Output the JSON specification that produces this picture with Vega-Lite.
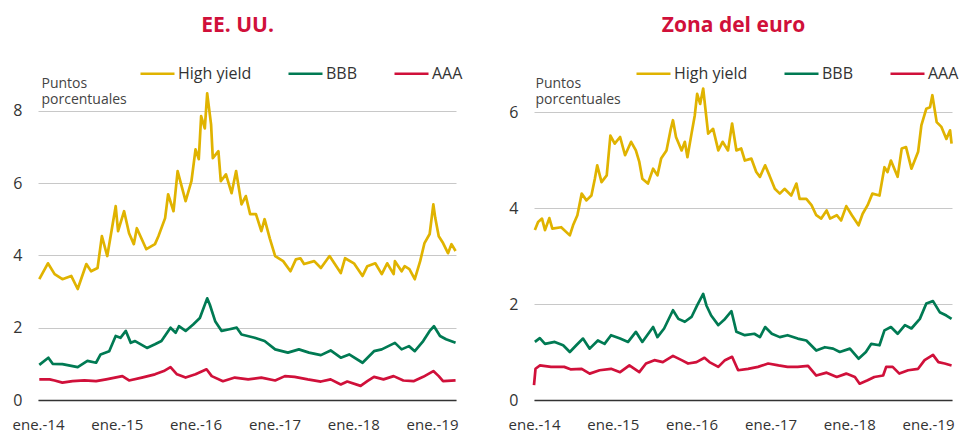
{
  "$schema": "https://vega.github.io/schema/vega-lite/v6.json",
  "padding": {"left": 12, "top": 15, "right": 0, "bottom": 0},
  "spacing": 45,
  "background": "white",
  "config": {
    "font": "Open Sans",
    "view": {"stroke": null},
    "line": {"strokeWidth": 2.7, "strokeJoin": "round"}
  },
  "datasets": {
    "us": [
      {"d":"2014-01-07","s":"High yield","v":3.34},{"d":"2014-02-16","s":"High yield","v":3.78},{"d":"2014-03-19","s":"High yield","v":3.48},{"d":"2014-04-24","s":"High yield","v":3.34},{"d":"2014-06-04","s":"High yield","v":3.43},{"d":"2014-07-04","s":"High yield","v":3.07},{"d":"2014-08-13","s":"High yield","v":3.76},{"d":"2014-09-04","s":"High yield","v":3.56},{"d":"2014-10-04","s":"High yield","v":3.65},{"d":"2014-10-24","s":"High yield","v":4.53},{"d":"2014-11-18","s":"High yield","v":3.98},{"d":"2014-12-27","s":"High yield","v":5.36},{"d":"2015-01-07","s":"High yield","v":4.67},{"d":"2015-02-04","s":"High yield","v":5.22},{"d":"2015-02-27","s":"High yield","v":4.61},{"d":"2015-03-21","s":"High yield","v":4.31},{"d":"2015-04-04","s":"High yield","v":4.75},{"d":"2015-05-18","s":"High yield","v":4.17},{"d":"2015-06-27","s":"High yield","v":4.31},{"d":"2015-07-13","s":"High yield","v":4.53},{"d":"2015-08-13","s":"High yield","v":5.03},{"d":"2015-08-27","s":"High yield","v":5.69},{"d":"2015-09-21","s":"High yield","v":5.22},{"d":"2015-10-10","s":"High yield","v":6.33},{"d":"2015-11-16","s":"High yield","v":5.5},{"d":"2015-12-13","s":"High yield","v":6.05},{"d":"2016-01-01","s":"High yield","v":6.93},{"d":"2016-01-16","s":"High yield","v":6.66},{"d":"2016-01-27","s":"High yield","v":7.85},{"d":"2016-02-13","s":"High yield","v":7.51},{"d":"2016-02-24","s":"High yield","v":8.48},{"d":"2016-03-13","s":"High yield","v":7.62},{"d":"2016-03-21","s":"High yield","v":6.69},{"d":"2016-04-16","s":"High yield","v":6.88},{"d":"2016-04-27","s":"High yield","v":6.05},{"d":"2016-05-21","s":"High yield","v":6.24},{"d":"2016-06-16","s":"High yield","v":5.72},{"d":"2016-07-07","s":"High yield","v":6.33},{"d":"2016-08-01","s":"High yield","v":5.41},{"d":"2016-08-21","s":"High yield","v":5.64},{"d":"2016-09-10","s":"High yield","v":5.14},{"d":"2016-10-07","s":"High yield","v":5.14},{"d":"2016-11-01","s":"High yield","v":4.67},{"d":"2016-11-16","s":"High yield","v":5.0},{"d":"2016-12-10","s":"High yield","v":4.47},{"d":"2017-01-04","s":"High yield","v":3.98},{"d":"2017-02-10","s":"High yield","v":3.84},{"d":"2017-03-16","s":"High yield","v":3.56},{"d":"2017-04-10","s":"High yield","v":3.89},{"d":"2017-05-01","s":"High yield","v":3.92},{"d":"2017-05-18","s":"High yield","v":3.76},{"d":"2017-07-04","s":"High yield","v":3.84},{"d":"2017-08-04","s":"High yield","v":3.65},{"d":"2017-09-13","s":"High yield","v":3.98},{"d":"2017-11-04","s":"High yield","v":3.51},{"d":"2017-11-24","s":"High yield","v":3.92},{"d":"2018-01-04","s":"High yield","v":3.78},{"d":"2018-02-13","s":"High yield","v":3.43},{"d":"2018-03-07","s":"High yield","v":3.7},{"d":"2018-04-13","s":"High yield","v":3.78},{"d":"2018-05-13","s":"High yield","v":3.48},{"d":"2018-06-07","s":"High yield","v":3.78},{"d":"2018-07-07","s":"High yield","v":3.48},{"d":"2018-07-13","s":"High yield","v":3.84},{"d":"2018-08-13","s":"High yield","v":3.56},{"d":"2018-08-27","s":"High yield","v":3.7},{"d":"2018-09-18","s":"High yield","v":3.62},{"d":"2018-10-13","s":"High yield","v":3.34},{"d":"2018-11-07","s":"High yield","v":3.84},{"d":"2018-11-27","s":"High yield","v":4.34},{"d":"2018-12-21","s":"High yield","v":4.59},{"d":"2019-01-07","s":"High yield","v":5.41},{"d":"2019-01-16","s":"High yield","v":5.03},{"d":"2019-02-01","s":"High yield","v":4.53},{"d":"2019-02-21","s":"High yield","v":4.34},{"d":"2019-03-16","s":"High yield","v":4.06},{"d":"2019-04-01","s":"High yield","v":4.31},{"d":"2019-04-20","s":"High yield","v":4.12},
      {"d":"2014-01-07","s":"BBB","v":0.97},{"d":"2014-02-18","s":"BBB","v":1.17},{"d":"2014-03-10","s":"BBB","v":1.0},{"d":"2014-04-24","s":"BBB","v":0.99},{"d":"2014-07-04","s":"BBB","v":0.91},{"d":"2014-08-18","s":"BBB","v":1.08},{"d":"2014-09-27","s":"BBB","v":1.03},{"d":"2014-10-18","s":"BBB","v":1.26},{"d":"2014-11-27","s":"BBB","v":1.35},{"d":"2014-12-27","s":"BBB","v":1.77},{"d":"2015-01-18","s":"BBB","v":1.72},{"d":"2015-02-12","s":"BBB","v":1.91},{"d":"2015-03-07","s":"BBB","v":1.58},{"d":"2015-03-27","s":"BBB","v":1.63},{"d":"2015-05-21","s":"BBB","v":1.44},{"d":"2015-06-27","s":"BBB","v":1.54},{"d":"2015-07-27","s":"BBB","v":1.63},{"d":"2015-09-07","s":"BBB","v":2.0},{"d":"2015-10-01","s":"BBB","v":1.86},{"d":"2015-10-16","s":"BBB","v":2.04},{"d":"2015-11-16","s":"BBB","v":1.91},{"d":"2015-12-21","s":"BBB","v":2.09},{"d":"2016-01-21","s":"BBB","v":2.27},{"d":"2016-02-24","s":"BBB","v":2.81},{"d":"2016-03-07","s":"BBB","v":2.64},{"d":"2016-04-01","s":"BBB","v":2.18},{"d":"2016-05-01","s":"BBB","v":1.91},{"d":"2016-06-01","s":"BBB","v":1.95},{"d":"2016-07-10","s":"BBB","v":2.0},{"d":"2016-08-01","s":"BBB","v":1.81},{"d":"2016-10-01","s":"BBB","v":1.72},{"d":"2016-11-16","s":"BBB","v":1.63},{"d":"2017-01-04","s":"BBB","v":1.4},{"d":"2017-03-04","s":"BBB","v":1.31},{"d":"2017-04-24","s":"BBB","v":1.4},{"d":"2017-06-10","s":"BBB","v":1.31},{"d":"2017-08-04","s":"BBB","v":1.24},{"d":"2017-09-18","s":"BBB","v":1.37},{"d":"2017-11-04","s":"BBB","v":1.17},{"d":"2017-12-13","s":"BBB","v":1.26},{"d":"2018-02-13","s":"BBB","v":1.03},{"d":"2018-04-07","s":"BBB","v":1.35},{"d":"2018-05-13","s":"BBB","v":1.4},{"d":"2018-07-13","s":"BBB","v":1.58},{"d":"2018-08-13","s":"BBB","v":1.4},{"d":"2018-09-16","s":"BBB","v":1.49},{"d":"2018-10-13","s":"BBB","v":1.35},{"d":"2018-11-21","s":"BBB","v":1.63},{"d":"2018-12-21","s":"BBB","v":1.91},{"d":"2019-01-10","s":"BBB","v":2.04},{"d":"2019-02-07","s":"BBB","v":1.77},{"d":"2019-03-07","s":"BBB","v":1.68},{"d":"2019-04-20","s":"BBB","v":1.58},
      {"d":"2014-01-07","s":"AAA","v":0.57},{"d":"2014-02-24","s":"AAA","v":0.57},{"d":"2014-03-19","s":"AAA","v":0.54},{"d":"2014-04-24","s":"AAA","v":0.48},{"d":"2014-06-10","s":"AAA","v":0.52},{"d":"2014-08-04","s":"AAA","v":0.54},{"d":"2014-09-27","s":"AAA","v":0.52},{"d":"2014-11-13","s":"AAA","v":0.57},{"d":"2015-01-27","s":"AAA","v":0.66},{"d":"2015-02-27","s":"AAA","v":0.54},{"d":"2015-04-27","s":"AAA","v":0.62},{"d":"2015-06-27","s":"AAA","v":0.71},{"d":"2015-08-07","s":"AAA","v":0.8},{"d":"2015-09-07","s":"AAA","v":0.91},{"d":"2015-10-07","s":"AAA","v":0.71},{"d":"2015-11-16","s":"AAA","v":0.62},{"d":"2016-01-01","s":"AAA","v":0.71},{"d":"2016-02-21","s":"AAA","v":0.85},{"d":"2016-03-16","s":"AAA","v":0.66},{"d":"2016-05-07","s":"AAA","v":0.52},{"d":"2016-07-01","s":"AAA","v":0.62},{"d":"2016-09-01","s":"AAA","v":0.57},{"d":"2016-11-01","s":"AAA","v":0.62},{"d":"2017-01-04","s":"AAA","v":0.54},{"d":"2017-02-18","s":"AAA","v":0.66},{"d":"2017-04-04","s":"AAA","v":0.64},{"d":"2017-06-04","s":"AAA","v":0.57},{"d":"2017-08-04","s":"AAA","v":0.51},{"d":"2017-09-18","s":"AAA","v":0.57},{"d":"2017-11-04","s":"AAA","v":0.43},{"d":"2017-12-04","s":"AAA","v":0.51},{"d":"2018-02-04","s":"AAA","v":0.39},{"d":"2018-03-07","s":"AAA","v":0.52},{"d":"2018-04-07","s":"AAA","v":0.64},{"d":"2018-05-21","s":"AAA","v":0.57},{"d":"2018-07-07","s":"AAA","v":0.66},{"d":"2018-08-21","s":"AAA","v":0.54},{"d":"2018-10-07","s":"AAA","v":0.52},{"d":"2018-11-21","s":"AAA","v":0.64},{"d":"2019-01-07","s":"AAA","v":0.8},{"d":"2019-02-01","s":"AAA","v":0.66},{"d":"2019-02-21","s":"AAA","v":0.52},{"d":"2019-04-20","s":"AAA","v":0.54}
    ],
    "ez": [
      {"d":"2014-01-05","s":"High yield","v":3.54},{"d":"2014-01-20","s":"High yield","v":3.71},{"d":"2014-02-07","s":"High yield","v":3.78},{"d":"2014-02-21","s":"High yield","v":3.54},{"d":"2014-03-13","s":"High yield","v":3.79},{"d":"2014-03-27","s":"High yield","v":3.57},{"d":"2014-05-07","s":"High yield","v":3.6},{"d":"2014-06-16","s":"High yield","v":3.43},{"d":"2014-07-01","s":"High yield","v":3.64},{"d":"2014-07-21","s":"High yield","v":3.85},{"d":"2014-08-10","s":"High yield","v":4.3},{"d":"2014-09-01","s":"High yield","v":4.16},{"d":"2014-09-24","s":"High yield","v":4.26},{"d":"2014-10-10","s":"High yield","v":4.61},{"d":"2014-10-21","s":"High yield","v":4.89},{"d":"2014-11-10","s":"High yield","v":4.54},{"d":"2014-12-04","s":"High yield","v":4.68},{"d":"2014-12-21","s":"High yield","v":5.51},{"d":"2015-01-10","s":"High yield","v":5.34},{"d":"2015-02-04","s":"High yield","v":5.48},{"d":"2015-02-27","s":"High yield","v":5.1},{"d":"2015-03-27","s":"High yield","v":5.38},{"d":"2015-04-18","s":"High yield","v":5.2},{"d":"2015-05-04","s":"High yield","v":4.96},{"d":"2015-05-18","s":"High yield","v":4.61},{"d":"2015-06-13","s":"High yield","v":4.51},{"d":"2015-07-07","s":"High yield","v":4.82},{"d":"2015-07-27","s":"High yield","v":4.68},{"d":"2015-08-13","s":"High yield","v":5.03},{"d":"2015-09-07","s":"High yield","v":5.2},{"d":"2015-09-27","s":"High yield","v":5.65},{"d":"2015-10-07","s":"High yield","v":5.83},{"d":"2015-10-21","s":"High yield","v":5.48},{"d":"2015-11-16","s":"High yield","v":5.2},{"d":"2015-12-01","s":"High yield","v":5.38},{"d":"2015-12-13","s":"High yield","v":5.06},{"d":"2016-01-01","s":"High yield","v":5.55},{"d":"2016-01-16","s":"High yield","v":5.93},{"d":"2016-01-27","s":"High yield","v":6.38},{"d":"2016-02-10","s":"High yield","v":6.17},{"d":"2016-02-24","s":"High yield","v":6.49},{"d":"2016-03-07","s":"High yield","v":6.0},{"d":"2016-03-18","s":"High yield","v":5.55},{"d":"2016-04-10","s":"High yield","v":5.65},{"d":"2016-05-04","s":"High yield","v":5.2},{"d":"2016-05-24","s":"High yield","v":5.38},{"d":"2016-06-18","s":"High yield","v":5.2},{"d":"2016-07-07","s":"High yield","v":5.76},{"d":"2016-07-27","s":"High yield","v":5.2},{"d":"2016-08-18","s":"High yield","v":5.24},{"d":"2016-09-04","s":"High yield","v":4.99},{"d":"2016-10-04","s":"High yield","v":5.03},{"d":"2016-10-27","s":"High yield","v":4.75},{"d":"2016-11-13","s":"High yield","v":4.65},{"d":"2016-12-07","s":"High yield","v":4.89},{"d":"2016-12-27","s":"High yield","v":4.68},{"d":"2017-01-21","s":"High yield","v":4.4},{"d":"2017-02-13","s":"High yield","v":4.3},{"d":"2017-03-07","s":"High yield","v":4.4},{"d":"2017-04-07","s":"High yield","v":4.26},{"d":"2017-05-01","s":"High yield","v":4.51},{"d":"2017-05-16","s":"High yield","v":4.19},{"d":"2017-06-16","s":"High yield","v":4.19},{"d":"2017-07-10","s":"High yield","v":4.06},{"d":"2017-08-01","s":"High yield","v":3.85},{"d":"2017-08-24","s":"High yield","v":3.78},{"d":"2017-09-18","s":"High yield","v":3.95},{"d":"2017-10-04","s":"High yield","v":3.78},{"d":"2017-11-04","s":"High yield","v":3.85},{"d":"2017-11-24","s":"High yield","v":3.74},{"d":"2017-12-18","s":"High yield","v":4.04},{"d":"2018-01-13","s":"High yield","v":3.85},{"d":"2018-02-13","s":"High yield","v":3.64},{"d":"2018-03-04","s":"High yield","v":3.88},{"d":"2018-03-27","s":"High yield","v":4.06},{"d":"2018-04-18","s":"High yield","v":4.3},{"d":"2018-05-21","s":"High yield","v":4.26},{"d":"2018-06-13","s":"High yield","v":4.85},{"d":"2018-06-27","s":"High yield","v":4.75},{"d":"2018-07-13","s":"High yield","v":4.99},{"d":"2018-08-13","s":"High yield","v":4.65},{"d":"2018-09-01","s":"High yield","v":5.24},{"d":"2018-09-21","s":"High yield","v":5.27},{"d":"2018-10-16","s":"High yield","v":4.82},{"d":"2018-11-16","s":"High yield","v":5.17},{"d":"2018-12-01","s":"High yield","v":5.72},{"d":"2018-12-24","s":"High yield","v":6.07},{"d":"2019-01-10","s":"High yield","v":6.1},{"d":"2019-01-21","s":"High yield","v":6.35},{"d":"2019-02-10","s":"High yield","v":5.79},{"d":"2019-03-04","s":"High yield","v":5.69},{"d":"2019-03-27","s":"High yield","v":5.44},{"d":"2019-04-13","s":"High yield","v":5.62},{"d":"2019-04-20","s":"High yield","v":5.34},
      {"d":"2014-01-05","s":"BBB","v":1.21},{"d":"2014-01-28","s":"BBB","v":1.29},{"d":"2014-02-21","s":"BBB","v":1.17},{"d":"2014-04-07","s":"BBB","v":1.21},{"d":"2014-05-16","s":"BBB","v":1.14},{"d":"2014-06-16","s":"BBB","v":1.0},{"d":"2014-07-16","s":"BBB","v":1.14},{"d":"2014-08-16","s":"BBB","v":1.28},{"d":"2014-09-16","s":"BBB","v":1.07},{"d":"2014-10-24","s":"BBB","v":1.24},{"d":"2014-11-24","s":"BBB","v":1.17},{"d":"2014-12-24","s":"BBB","v":1.35},{"d":"2015-02-04","s":"BBB","v":1.28},{"d":"2015-03-13","s":"BBB","v":1.21},{"d":"2015-04-18","s":"BBB","v":1.42},{"d":"2015-05-18","s":"BBB","v":1.21},{"d":"2015-07-07","s":"BBB","v":1.52},{"d":"2015-07-27","s":"BBB","v":1.31},{"d":"2015-08-27","s":"BBB","v":1.49},{"d":"2015-10-07","s":"BBB","v":1.87},{"d":"2015-11-01","s":"BBB","v":1.69},{"d":"2015-12-01","s":"BBB","v":1.63},{"d":"2016-01-01","s":"BBB","v":1.73},{"d":"2016-01-27","s":"BBB","v":1.97},{"d":"2016-02-24","s":"BBB","v":2.21},{"d":"2016-03-10","s":"BBB","v":1.97},{"d":"2016-04-01","s":"BBB","v":1.76},{"d":"2016-05-04","s":"BBB","v":1.56},{"d":"2016-06-04","s":"BBB","v":1.69},{"d":"2016-07-04","s":"BBB","v":1.85},{"d":"2016-07-27","s":"BBB","v":1.42},{"d":"2016-09-04","s":"BBB","v":1.35},{"d":"2016-10-18","s":"BBB","v":1.38},{"d":"2016-11-13","s":"BBB","v":1.31},{"d":"2016-12-07","s":"BBB","v":1.52},{"d":"2017-01-07","s":"BBB","v":1.38},{"d":"2017-02-13","s":"BBB","v":1.31},{"d":"2017-03-21","s":"BBB","v":1.35},{"d":"2017-05-07","s":"BBB","v":1.28},{"d":"2017-06-16","s":"BBB","v":1.24},{"d":"2017-08-01","s":"BBB","v":1.03},{"d":"2017-09-10","s":"BBB","v":1.1},{"d":"2017-10-18","s":"BBB","v":1.07},{"d":"2017-11-18","s":"BBB","v":1.0},{"d":"2018-01-04","s":"BBB","v":1.07},{"d":"2018-02-13","s":"BBB","v":0.86},{"d":"2018-03-19","s":"BBB","v":1.0},{"d":"2018-04-13","s":"BBB","v":1.17},{"d":"2018-05-21","s":"BBB","v":1.14},{"d":"2018-06-13","s":"BBB","v":1.45},{"d":"2018-07-13","s":"BBB","v":1.52},{"d":"2018-08-13","s":"BBB","v":1.38},{"d":"2018-09-16","s":"BBB","v":1.56},{"d":"2018-10-16","s":"BBB","v":1.49},{"d":"2018-11-24","s":"BBB","v":1.69},{"d":"2018-12-24","s":"BBB","v":2.01},{"d":"2019-01-24","s":"BBB","v":2.06},{"d":"2019-02-24","s":"BBB","v":1.83},{"d":"2019-03-27","s":"BBB","v":1.76},{"d":"2019-04-20","s":"BBB","v":1.69},
      {"d":"2014-01-01","s":"AAA","v":0.31},{"d":"2014-01-08","s":"AAA","v":0.65},{"d":"2014-01-28","s":"AAA","v":0.72},{"d":"2014-03-21","s":"AAA","v":0.69},{"d":"2014-05-21","s":"AAA","v":0.69},{"d":"2014-06-19","s":"AAA","v":0.64},{"d":"2014-08-10","s":"AAA","v":0.65},{"d":"2014-09-16","s":"AAA","v":0.55},{"d":"2014-11-01","s":"AAA","v":0.62},{"d":"2014-12-24","s":"AAA","v":0.65},{"d":"2015-02-04","s":"AAA","v":0.58},{"d":"2015-03-19","s":"AAA","v":0.72},{"d":"2015-05-04","s":"AAA","v":0.58},{"d":"2015-06-04","s":"AAA","v":0.76},{"d":"2015-07-13","s":"AAA","v":0.83},{"d":"2015-08-21","s":"AAA","v":0.79},{"d":"2015-10-07","s":"AAA","v":0.92},{"d":"2015-11-16","s":"AAA","v":0.83},{"d":"2015-12-16","s":"AAA","v":0.76},{"d":"2016-01-24","s":"AAA","v":0.79},{"d":"2016-03-01","s":"AAA","v":0.88},{"d":"2016-03-24","s":"AAA","v":0.79},{"d":"2016-05-04","s":"AAA","v":0.69},{"d":"2016-06-04","s":"AAA","v":0.83},{"d":"2016-07-07","s":"AAA","v":0.9},{"d":"2016-08-04","s":"AAA","v":0.62},{"d":"2016-09-19","s":"AAA","v":0.65},{"d":"2016-11-04","s":"AAA","v":0.69},{"d":"2016-12-21","s":"AAA","v":0.76},{"d":"2017-02-07","s":"AAA","v":0.72},{"d":"2017-03-21","s":"AAA","v":0.69},{"d":"2017-05-07","s":"AAA","v":0.69},{"d":"2017-06-24","s":"AAA","v":0.71},{"d":"2017-08-01","s":"AAA","v":0.51},{"d":"2017-09-18","s":"AAA","v":0.57},{"d":"2017-11-04","s":"AAA","v":0.48},{"d":"2017-12-18","s":"AAA","v":0.55},{"d":"2018-01-27","s":"AAA","v":0.48},{"d":"2018-02-18","s":"AAA","v":0.34},{"d":"2018-03-27","s":"AAA","v":0.41},{"d":"2018-04-27","s":"AAA","v":0.48},{"d":"2018-06-07","s":"AAA","v":0.51},{"d":"2018-06-21","s":"AAA","v":0.69},{"d":"2018-07-21","s":"AAA","v":0.69},{"d":"2018-08-21","s":"AAA","v":0.55},{"d":"2018-10-01","s":"AAA","v":0.62},{"d":"2018-11-16","s":"AAA","v":0.65},{"d":"2018-12-16","s":"AAA","v":0.83},{"d":"2019-01-24","s":"AAA","v":0.94},{"d":"2019-02-18","s":"AAA","v":0.79},{"d":"2019-03-19","s":"AAA","v":0.76},{"d":"2019-04-20","s":"AAA","v":0.72}
    ]
  },
  "resolve": {"scale": {"y": "independent", "color": "independent", "x": "independent"}, "legend": {"color": "independent"}},
  "hconcat": [
    {
      "title": {"text": "EE. UU.", "color": "#d0103a", "fontSize": 21, "fontWeight": "bold", "anchor": "middle", "frame": "bounds", "offset": 19},
      "data": {"name": "us"},
      "width": 418,
      "height": 311,
      "mark": {"type": "line"},
      "encoding": {
        "x": {"field": "d", "type": "temporal",
          "scale": {"domain": [{"year": 2014, "month": 1, "date": 1}, {"year": 2019, "month": 4, "date": 22}]},
          "axis": {"values": [{"year": 2014, "month": 1, "date": 1}, {"year": 2015, "month": 1, "date": 1}, {"year": 2016, "month": 1, "date": 1}, {"year": 2017, "month": 1, "date": 1}, {"year": 2018, "month": 1, "date": 1}, {"year": 2019, "month": 1, "date": 1}],
            "labelExpr": "'ene.-' + timeFormat(datum.value, '%y')", "title": null, "grid": false, "ticks": false,
            "domain": true, "domainColor": "#333333", "domainWidth": 1.5, "labelFontSize": 15, "labelColor": "#333333", "labelPadding": 17, "labelFlush": false, "zindex": 1}},
        "y": {"field": "v", "type": "quantitative",
          "scale": {"domain": [0, 8.6], "nice": false},
          "axis": {"values": [0, 2, 4, 6, 8], "title": ["Puntos", "porcentuales"], "titleAngle": 0, "titleAlign": "left", "titleBaseline": "top", "titleX": 3, "titleY": -13, "titleFontSize": 14, "titleFontWeight": "normal", "titleColor": "#444444", "titleLineHeight": 16,
            "grid": true, "gridColor": "#c8c8c8", "domain": false, "ticks": false, "labelFontSize": 16, "labelColor": "#333333", "labelPadding": 16}},
        "color": {"field": "s", "type": "nominal",
          "scale": {"domain": ["High yield", "BBB", "AAA"], "range": ["#e0b300", "#007a53", "#d0103a"]},
          "legend": {"orient": "none", "legendX": 101, "legendY": -34, "direction": "horizontal", "title": null, "symbolType": "stroke", "symbolSize": 1156, "symbolStrokeWidth": 3, "labelFontSize": 16, "labelColor": "#333333", "labelOffset": 2, "columnPadding": 35, "padding": 0}}
      }
    },
    {
      "title": {"text": "Zona del euro", "color": "#d0103a", "fontSize": 21, "fontWeight": "bold", "anchor": "middle", "frame": "bounds", "offset": 19},
      "data": {"name": "ez"},
      "width": 418,
      "height": 311,
      "mark": {"type": "line"},
      "encoding": {
        "x": {"field": "d", "type": "temporal",
          "scale": {"domain": [{"year": 2014, "month": 1, "date": 1}, {"year": 2019, "month": 4, "date": 22}]},
          "axis": {"values": [{"year": 2014, "month": 1, "date": 1}, {"year": 2015, "month": 1, "date": 1}, {"year": 2016, "month": 1, "date": 1}, {"year": 2017, "month": 1, "date": 1}, {"year": 2018, "month": 1, "date": 1}, {"year": 2019, "month": 1, "date": 1}],
            "labelExpr": "'ene.-' + timeFormat(datum.value, '%y')", "title": null, "grid": false, "ticks": false,
            "domain": true, "domainColor": "#333333", "domainWidth": 1.5, "labelFontSize": 15, "labelColor": "#333333", "labelPadding": 17, "labelFlush": false, "zindex": 1}},
        "y": {"field": "v", "type": "quantitative",
          "scale": {"domain": [0, 6.48], "nice": false},
          "axis": {"values": [0, 2, 4, 6], "title": ["Puntos", "porcentuales"], "titleAngle": 0, "titleAlign": "left", "titleBaseline": "top", "titleX": 1, "titleY": -13, "titleFontSize": 14, "titleFontWeight": "normal", "titleColor": "#444444", "titleLineHeight": 16,
            "grid": true, "gridColor": "#c8c8c8", "domain": false, "ticks": false, "labelFontSize": 16, "labelColor": "#333333", "labelPadding": 16}},
        "color": {"field": "s", "type": "nominal",
          "scale": {"domain": ["High yield", "BBB", "AAA"], "range": ["#e0b300", "#007a53", "#d0103a"]},
          "legend": {"orient": "none", "legendX": 101, "legendY": -34, "direction": "horizontal", "title": null, "symbolType": "stroke", "symbolSize": 1156, "symbolStrokeWidth": 3, "labelFontSize": 16, "labelColor": "#333333", "labelOffset": 2, "columnPadding": 35, "padding": 0}}
      }
    }
  ]
}
